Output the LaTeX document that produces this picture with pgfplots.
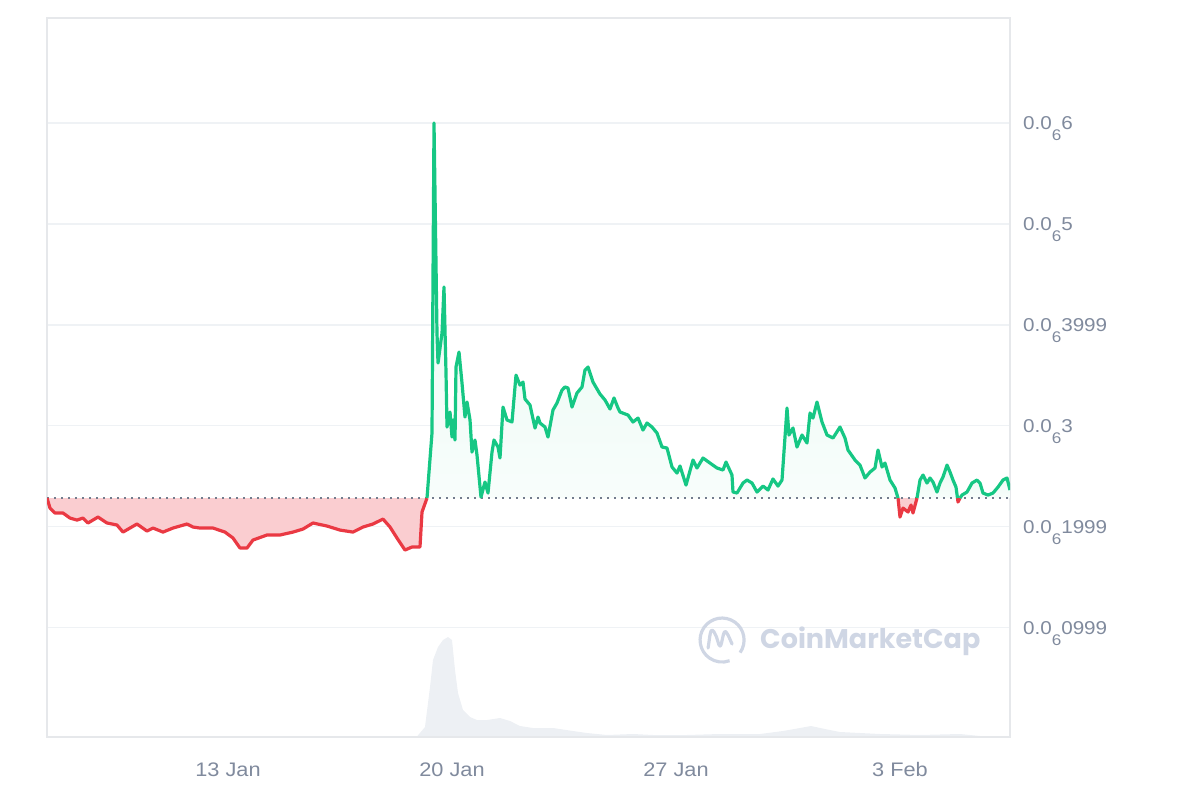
\documentclass[border=0pt]{standalone}
\usepackage{pgfplots}
\pgfplotsset{compat=1.18}
\usepackage{pgfplotstable}
\usepackage{fontspec}
\setmainfont{Liberation Sans}[FakeStretch=1.11]
\newfontfamily\wmfont{Poppins}
\definecolor{cmcgreen}{HTML}{16C784}
\definecolor{cmcred}{HTML}{EA3943}
\definecolor{lbl}{HTML}{808A9D}
\definecolor{gridc}{HTML}{EFF2F5}
\definecolor{framec}{HTML}{E6E8EB}
\definecolor{volc}{HTML}{EDF0F4}
\definecolor{wmc}{HTML}{CFD6E4}
\newcommand{\sub}[1]{\raisebox{-0.6em}{\fontsize{7.7pt}{7.7pt}\selectfont #1}}

% price in units of 1e-6 USD, x in days (13 = 13 Jan, 34 = 3 Feb)
\pgfplotstableread{
x y
7.344 0.2283
7.438 0.2184
7.594 0.2135
7.844 0.2135
8.063 0.2085
8.281 0.2065
8.469 0.2085
8.625 0.2036
8.938 0.2095
9.219 0.2036
9.531 0.2016
9.719 0.1946
10.156 0.2026
10.469 0.1956
10.656 0.1986
10.969 0.1946
11.281 0.1986
11.719 0.2026
11.906 0.1996
12.125 0.1986
12.531 0.1986
12.906 0.1946
13.156 0.1887
13.375 0.1788
13.594 0.1788
13.781 0.1867
14.219 0.1917
14.625 0.1917
15.031 0.1946
15.344 0.1976
15.656 0.2036
16.094 0.2006
16.500 0.1966
16.906 0.1946
17.219 0.1996
17.531 0.2026
17.844 0.2075
18.063 0.1996
18.281 0.1887
18.531 0.1768
18.750 0.1798
19.000 0.1798
19.063 0.2145
19.219 0.2283
}\redA

\pgfplotstableread{
x y
19.219 0.2283
19.375 0.2928
19.438 0.6000
19.531 0.3919
19.563 0.3621
19.688 0.3919
19.750 0.4375
19.813 0.3522
19.844 0.2987
19.938 0.3136
20.000 0.2888
20.031 0.3057
20.094 0.2858
20.125 0.3582
20.219 0.3730
20.313 0.3423
20.406 0.3086
20.469 0.3235
20.563 0.3057
20.625 0.2739
20.719 0.2858
20.781 0.2710
20.906 0.2293
21.031 0.2442
21.125 0.2333
21.250 0.2739
21.313 0.2858
21.438 0.2789
21.500 0.2680
21.594 0.3185
21.719 0.3057
21.875 0.3037
22.000 0.3502
22.125 0.3403
22.219 0.3433
22.281 0.3265
22.438 0.3205
22.594 0.2977
22.688 0.3086
22.750 0.3027
22.906 0.2987
23.000 0.2888
23.156 0.3156
23.281 0.3225
23.438 0.3354
23.531 0.3384
23.625 0.3374
23.750 0.3185
23.906 0.3324
24.063 0.3384
24.156 0.3552
24.250 0.3582
24.406 0.3433
24.625 0.3314
24.781 0.3255
24.938 0.3166
25.063 0.3275
25.188 0.3175
25.250 0.3136
25.500 0.3106
25.656 0.3037
25.813 0.3076
25.969 0.2957
26.094 0.3027
26.250 0.2987
26.406 0.2928
26.563 0.2789
26.719 0.2779
26.875 0.2591
27.031 0.2531
27.125 0.2601
27.313 0.2412
27.531 0.2660
27.656 0.2581
27.844 0.2680
28.063 0.2630
28.281 0.2581
28.469 0.2561
28.563 0.2640
28.750 0.2511
28.781 0.2343
28.906 0.2333
29.094 0.2432
29.219 0.2462
29.375 0.2432
29.531 0.2343
29.719 0.2402
29.875 0.2363
30.031 0.2472
30.188 0.2402
30.313 0.2462
30.469 0.3175
30.531 0.2908
30.656 0.2977
30.781 0.2789
30.938 0.2908
31.094 0.2829
31.188 0.3126
31.281 0.3076
31.406 0.3235
31.563 0.3037
31.719 0.2908
31.906 0.2878
32.125 0.2987
32.281 0.2878
32.375 0.2759
32.594 0.2660
32.750 0.2610
32.906 0.2482
33.063 0.2541
33.219 0.2581
33.313 0.2759
33.438 0.2591
33.531 0.2630
33.688 0.2462
33.844 0.2383
33.938 0.2283
}\greenA

\pgfplotstableread{
x y
33.938 0.2283
34.000 0.2095
34.094 0.2184
34.250 0.2145
34.344 0.2214
34.406 0.2135
34.531 0.2283
}\redB

\pgfplotstableread{
x y
34.531 0.2283
34.625 0.2462
34.719 0.2511
34.844 0.2432
34.938 0.2482
35.031 0.2442
35.156 0.2343
35.250 0.2432
35.344 0.2492
35.469 0.2610
35.563 0.2541
35.656 0.2462
35.750 0.2392
35.797 0.2283
}\greenB

\pgfplotstableread{
x y
35.797 0.2283
35.813 0.2244
35.875 0.2283
}\redC

\pgfplotstableread{
x y
35.875 0.2283
35.938 0.2313
36.094 0.2343
36.250 0.2432
36.406 0.2462
36.500 0.2432
36.594 0.2333
36.750 0.2313
36.906 0.2333
37.063 0.2392
37.219 0.2462
37.344 0.2482
37.438 0.2363
37.438 0.2283
}\greenC

% volume, relative units
\pgfplotstableread{
x y
7.344 0.3
18.906 0.5
19.156 10
19.313 50
19.406 77
19.563 90
19.719 97
19.875 100
20.000 97
20.094 67
20.188 44
20.344 27
20.563 20
20.781 17
21.094 17
21.500 19
21.813 16
22.125 11
22.531 9
23.156 9
23.781 6
24.219 4
24.844 2
25.656 3
26.281 2
27.344 2
28.375 3
29.625 3
30.344 6
30.875 9
31.219 11
31.656 8
32.125 5
32.750 4
33.375 3
34.625 2
35.875 3
36.500 1
37.438 0.5
}\vol

\begin{document}
\begin{tikzpicture}
\useasboundingbox (0,0) rectangle (600pt,400pt);
% volume layer
\begin{axis}[at={(23.5pt,31.5pt)}, anchor=south west, scale only axis,
  width=481.5pt, height=359.5pt,
  xmin=7.344, xmax=37.4375, ymin=0, ymax=719,
  axis lines=none, xtick=\empty, ytick=\empty]
\addplot[draw=none, fill=volc] table {\vol} \closedcycle;
\end{axis}
% price layer
\begin{axis}[at={(23.5pt,31.5pt)}, anchor=south west, scale only axis,
  width=481.5pt, height=359.5pt,
  xmin=7.344, xmax=37.4375, ymin=-0.0085, ymax=0.7041,
  axis line style={draw=framec, line width=0.75pt},
  ymajorgrids, grid style={draw=gridc, line width=0.75pt},
  major tick length=0pt,
  ytick={0.0999,0.1999,0.3,0.3999,0.5,0.6},
  yticklabels={0.0\sub{6}0999,0.0\sub{6}1999,0.0\sub{6}3,0.0\sub{6}3999,0.0\sub{6}5,0.0\sub{6}6},
  yticklabel pos=right,
  yticklabel style={anchor=base west, xshift=3pt, yshift=-3.3pt, text=lbl, font=\fontsize{9.3}{9.3}\selectfont},
  xtick={13,20,27,34},
  xticklabels={13 Jan,20 Jan,27 Jan,3 Feb},
  xticklabel style={anchor=base, yshift=-19.5pt, text=lbl, font=\fontsize{9.8}{9.8}\selectfont},
]
% fills
\addplot[draw=none, fill=cmcred!25!white] table {\redA} -- cycle;
\addplot[draw=none, fill=cmcred!25!white] table {\redB} -- cycle;
\addplot[draw=none, fill=cmcred!25!white] table {\redC} -- cycle;
\addplot[draw=none, top color=cmcgreen!13!white, bottom color=cmcgreen!3!white] table {\greenA} -- cycle;
\addplot[draw=none, top color=cmcgreen!10!white, bottom color=cmcgreen!3!white] table {\greenB} -- cycle;
\addplot[draw=none, top color=cmcgreen!8!white, bottom color=cmcgreen!3!white] table {\greenC} -- cycle;
% baseline
\addplot[color=lbl!90!black, line width=0.75pt, dash pattern=on 0.75pt off 2.75pt] coordinates {(7.344,0.2283) (37.4375,0.2283)};
% lines
\addplot[cmcred, line width=1.6pt, line join=round] table {\redA};
\addplot[cmcred, line width=1.6pt, line join=round] table {\redB};
\addplot[cmcred, line width=1.6pt, line join=round] table {\redC};
\addplot[cmcgreen, line width=1.6pt, line join=round] table {\greenA};
\addplot[cmcgreen, line width=1.6pt, line join=round] table {\greenB};
\addplot[cmcgreen, line width=1.6pt, line join=round] table[restrict expr to domain={\coordindex}{0:12}] {\greenC};
% watermark
\draw[wmc, line width=1.6pt] (axis cs:28.44,0.0876) ++(-35:11pt) arc[start angle=-35, end angle=290, radius=11pt];
\draw[wmc, line width=1.6pt, line join=round, line cap=round] (axis cs:28.44,0.0876) ++(-7pt,-4pt) .. controls ++(1pt,6pt) and ++(-2pt,3pt) .. ++(3pt,8pt) .. controls ++(2pt,-3pt) and ++(-1pt,0pt) .. ++(3pt,-7pt) .. controls ++(1pt,0pt) and ++(-1.5pt,2pt) .. ++(3pt,7pt) .. controls ++(1.5pt,-2pt) and ++(-1pt,2pt) .. ++(3pt,-6pt);
\node[anchor=west, text=wmc, font=\wmfont\bfseries\fontsize{13.5}{13.5}\selectfont, inner sep=0pt] at (axis cs:29.62,0.0866) {CoinMarketCap};
\end{axis}
\end{tikzpicture}
\end{document}
